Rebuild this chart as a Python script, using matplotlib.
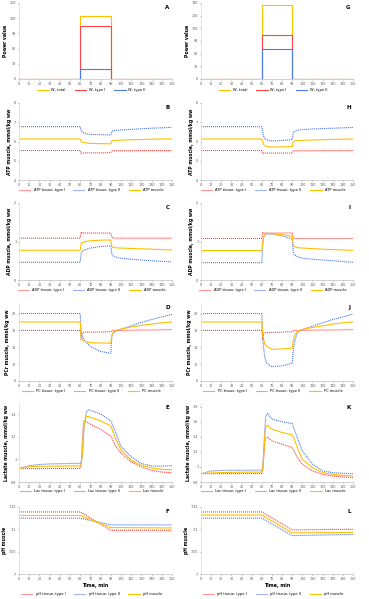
import matplotlib
matplotlib.use("Agg")
import matplotlib.pyplot as plt
from matplotlib.ticker import FuncFormatter

# ---------------- data ----------------
t_pow = [0, 60, 60, 90, 90, 150]
pow_total_A = [0, 0, 125, 125, 0, 0]
pow_t1_A = [0, 0, 105, 105, 0, 0]
pow_t2_A = [0, 0, 20, 20, 0, 0]
pow_total_G = [0, 0, 175, 175, 0, 0]
pow_t1_G = [0, 0, 105, 105, 0, 0]
pow_t2_G = [0, 0, 70, 70, 0, 0]

T = [0, 10, 20, 30, 40, 50, 60, 61, 62, 63, 65, 70, 80, 90, 91, 92, 95, 100, 110, 120, 130, 140, 150]

atp_t1_B = [5.53]*7 + [5.38, 5.41, 5.41, 5.41, 5.41, 5.41, 5.42, 5.51, 5.52, 5.52, 5.52, 5.52, 5.53, 5.53, 5.53, 5.53]
atp_t2_B = [6.77]*7 + [6.55, 6.50, 6.46, 6.41, 6.37, 6.35, 6.34, 6.52, 6.56, 6.58, 6.60, 6.63, 6.66, 6.69, 6.71, 6.74]
atp_m_B = [6.13]*7 + [6.00, 5.97, 5.95, 5.93, 5.90, 5.89, 5.88, 6.03, 6.05, 6.06, 6.07, 6.09, 6.10, 6.12, 6.13, 6.14]

atp_t1_H = [5.53]*7 + [5.38, 5.39, 5.40, 5.40, 5.40, 5.40, 5.40, 5.51, 5.52, 5.52, 5.52, 5.52, 5.53, 5.53, 5.53, 5.53]
atp_t2_H = [6.77]*7 + [6.45, 6.24, 6.15, 6.07, 6.03, 6.05, 6.10, 6.45, 6.52, 6.59, 6.62, 6.65, 6.67, 6.69, 6.71, 6.73]
atp_m_H = [6.13]*7 + [5.95, 5.82, 5.78, 5.74, 5.71, 5.72, 5.74, 5.98, 6.03, 6.05, 6.06, 6.08, 6.09, 6.11, 6.12, 6.13]

adp_t1_C = [1.087]*7 + [1.25, 1.22, 1.22, 1.22, 1.22, 1.22, 1.22, 1.12, 1.09, 1.087, 1.087, 1.087, 1.087, 1.087, 1.087, 1.087]
adp_t2_C = [0.46]*7 + [0.70, 0.74, 0.77, 0.79, 0.83, 0.87, 0.89, 0.68, 0.63, 0.59, 0.565, 0.54, 0.52, 0.50, 0.485, 0.47]
adp_m_C = [0.774]*7 + [0.95, 0.97, 0.98, 1.00, 1.02, 1.035, 1.04, 0.87, 0.85, 0.835, 0.83, 0.82, 0.81, 0.80, 0.79, 0.78]

adp_t1_I = [1.078]*7 + [1.24, 1.22, 1.22, 1.22, 1.22, 1.22, 1.22, 1.10, 1.08, 1.078, 1.078, 1.078, 1.078, 1.078, 1.078, 1.078]
adp_t2_I = [0.45]*7 + [0.95, 1.13, 1.17, 1.20, 1.19, 1.15, 1.06, 0.75, 0.65, 0.61, 0.565, 0.54, 0.52, 0.50, 0.48, 0.46]
adp_m_I = [0.765]*7 + [1.00, 1.13, 1.18, 1.21, 1.20, 1.18, 1.13, 0.93, 0.87, 0.84, 0.83, 0.815, 0.80, 0.79, 0.78, 0.77]

pc_t1_D = [18.0]*7 + [15.8, 17.4, 17.5, 17.6, 17.6, 17.6, 17.7, 17.9, 18.0, 18.0, 18.0, 18.05, 18.1, 18.1, 18.15, 18.2]
pc_t2_D = [22.0]*7 + [17.4, 16.8, 16.2, 15.4, 14.2, 13.0, 12.6, 16.6, 17.2, 17.8, 18.3, 19.1, 19.9, 20.6, 21.2, 21.8]
pc_m_D = [20.0]*7 + [16.2, 15.8, 15.6, 15.4, 15.1, 15.0, 15.0, 16.8, 17.4, 18.0, 18.3, 18.8, 19.2, 19.5, 19.8, 20.0]

pc_t1_J = [18.0]*7 + [15.8, 17.4, 17.5, 17.5, 17.5, 17.6, 17.7, 17.9, 18.0, 18.0, 18.0, 18.05, 18.1, 18.1, 18.15, 18.2]
pc_t2_J = [22.0]*7 + [16.0, 13.4, 11.5, 10.2, 9.4, 9.6, 10.2, 13.0, 15.0, 17.4, 18.2, 19.0, 19.8, 20.6, 21.2, 21.9]
pc_m_J = [20.0]*7 + [16.6, 15.6, 14.8, 14.2, 13.5, 13.6, 13.8, 15.5, 16.6, 17.8, 18.2, 18.7, 19.1, 19.5, 19.8, 20.0]

TL = [0, 10, 20, 30, 40, 50, 60, 61, 62, 63, 64, 66, 68, 70, 80, 90, 92, 95, 100, 110, 120, 130, 140, 150]
lac_t1_E = [0.918, 0.918, 0.918, 0.919, 0.919, 0.919, 0.92, 0.96, 1.15, 1.30, 1.342, 1.335, 1.325, 1.312, 1.267, 1.206, 1.17, 1.115, 1.055, 0.979, 0.933, 0.903, 0.888, 0.882]
lac_t2_E = [0.92, 0.945, 0.955, 0.96, 0.962, 0.964, 0.965, 0.975, 1.02, 1.15, 1.30, 1.42, 1.44, 1.435, 1.403, 1.342, 1.30, 1.236, 1.115, 1.024, 0.964, 0.942, 0.940, 0.945]
lac_m_E = [0.92, 0.935, 0.94, 0.94, 0.941, 0.942, 0.943, 0.96, 1.05, 1.20, 1.33, 1.38, 1.38, 1.373, 1.342, 1.297, 1.25, 1.176, 1.085, 0.994, 0.948, 0.924, 0.912, 0.909]

lac_t1_K = [0.911, 0.911, 0.911, 0.912, 0.912, 0.912, 0.913, 0.95, 1.15, 1.33, 1.39, 1.395, 1.37, 1.347, 1.302, 1.258, 1.21, 1.124, 1.036, 0.947, 0.902, 0.88, 0.867, 0.858]
lac_t2_K = [0.91, 0.947, 0.952, 0.956, 0.956, 0.957, 0.957, 1.0, 1.25, 1.50, 1.68, 1.71, 1.67, 1.636, 1.60, 1.578, 1.50, 1.391, 1.213, 1.036, 0.947, 0.924, 0.916, 0.911]
lac_m_K = [0.911, 0.92, 0.925, 0.929, 0.93, 0.931, 0.932, 0.97, 1.20, 1.42, 1.54, 1.555, 1.52, 1.502, 1.458, 1.427, 1.37, 1.258, 1.102, 0.991, 0.924, 0.902, 0.889, 0.88]

T_ph = [0, 60, 90, 150]
ph_t1_F = [7.139, 7.139, 7.098, 7.098]
ph_t2_F = [7.125, 7.125, 7.110, 7.110]
ph_m_F = [7.131, 7.131, 7.104, 7.103]
ph_t1_L = [7.139, 7.139, 7.099, 7.100]
ph_t2_L = [7.125, 7.125, 7.086, 7.0885]
ph_m_L = [7.132, 7.132, 7.092, 7.093]

x_ticks = list(range(0, 151, 10))

# ---------------- style ----------------
RED = '#FF4646'
BLUE = '#4F7BEA'
YEL = '#FFC000'
DOT = (0, (1, 0.8))

W, H = 369, 599
fig = plt.figure(figsize=(W/100, H/100), dpi=100)
plt.rcParams['font.family'] = ['DejaVu Sans']

rows_px = [(3, 79), (103, 180), (203, 280), (303, 381), (403, 482), (507, 574)]
leg_px = [90, 190, 290, 391, 491, 594]
cols_px = [(19, 172), (201, 353)]

def comma_fmt(v, pos):
    s = '{:g}'.format(round(v, 6))
    return s.replace('.', ',')

def make_ax(r, c):
    (x0, x1), (y0, y1) = cols_px[c], rows_px[r]
    ax = fig.add_axes([x0/W, 1 - y1/H, (x1-x0)/W, (y1-y0)/H])
    for s in ['top', 'right']:
        ax.spines[s].set_visible(False)
    ax.spines['left'].set_color('#d9d9d9')
    ax.spines['bottom'].set_color('#bfbfbf')
    ax.spines['left'].set_linewidth(0.5)
    ax.spines['bottom'].set_linewidth(0.5)
    ax.tick_params(labelsize=2.4, length=1, width=0.4, pad=1, colors='#595959')
    ax.set_xlim(0, 150)
    ax.set_xticks(x_ticks)
    ax.yaxis.set_major_formatter(FuncFormatter(comma_fmt))
    return ax

def finish(ax, r, c, ylabel, letter, handles):
    ax.set_ylabel(ylabel, fontsize=3.3, fontweight='bold', labelpad=1.5)
    ax.text(0.985, 0.97, letter, transform=ax.transAxes, ha='right', va='top',
            fontsize=4, fontweight='bold')
    (x0, x1) = cols_px[c]
    fig.legend(handles=handles, loc='center', ncol=3, frameon=False, fontsize=2.6,
               handlelength=3.2, columnspacing=2.4, handletextpad=0.8,
               bbox_to_anchor=(((x0+x1)/2 - 4)/W, 1 - leg_px[r]/H),
               bbox_transform=fig.transFigure)

lw = 0.8

# Row 1: power
for c, (tot, t1, t2, ymax, letter) in enumerate([
        (pow_total_A, pow_t1_A, pow_t2_A, 150, 'A'),
        (pow_total_G, pow_t1_G, pow_t2_G, 180, 'G')]):
    ax = make_ax(0, c)
    h1, = ax.plot(t_pow, tot, color=YEL, lw=lw, label='W, total')
    h2, = ax.plot(t_pow, t1, color=RED, lw=lw, label='W, type I')
    h3, = ax.plot(t_pow, t2, color=BLUE, lw=lw, label='W, type II')
    ax.set_ylim(0, ymax)
    ax.set_yticks(list(range(0, ymax+1, 30)))
    finish(ax, 0, c, 'Power value', letter, [h1, h2, h3])

panels = [
    (1, T, [(atp_t1_B, atp_t2_B, atp_m_B, 'B'), (atp_t1_H, atp_t2_H, atp_m_H, 'H')],
     'ATP', 'ATP muscle, mmol/kg ww', (4, 8), [4, 5, 6, 7, 8]),
    (2, T, [(adp_t1_C, adp_t2_C, adp_m_C, 'C'), (adp_t1_I, adp_t2_I, adp_m_I, 'I')],
     'ADP', 'ADP muscle, mmol/kg ww', (0, 2), [0, 1, 2]),
    (3, T, [(pc_t1_D, pc_t2_D, pc_m_D, 'D'), (pc_t1_J, pc_t2_J, pc_m_J, 'J')],
     'PC', 'PCr muscle, mmol/kg ww', (6, 24.5), [6, 10, 14, 18, 22]),
    (4, TL, [(lac_t1_E, lac_t2_E, lac_m_E, 'E'), (lac_t1_K, lac_t2_K, lac_m_K, 'K')],
     'Lac', 'Lactate muscle, mmol/kg ww', None, None),
    (5, T_ph, [(ph_t1_F, ph_t2_F, ph_m_F, 'F'), (ph_t1_L, ph_t2_L, ph_m_L, 'L')],
     'pH', 'pH muscle', (7.0, 7.15), [7.0, 7.05, 7.1, 7.15]),
]

lac_lims = [((0.8, 1.5), [0.8, 1.0, 1.2, 1.4]), ((0.8, 1.85), [0.8, 1.0, 1.2, 1.4, 1.6, 1.8])]

for r, tt, series, pre, ylabel, ylim, yt in panels:
    for c, (s1, s2, sm, letter) in enumerate(series):
        ax = make_ax(r, c)
        h1, = ax.plot(tt, s1, color=RED, lw=lw, ls=DOT, label=f'{pre} tissue, type I')
        h2, = ax.plot(tt, s2, color=BLUE, lw=lw, ls=DOT, label=f'{pre} tissue, type II')
        h3, = ax.plot(tt, sm, color=YEL, lw=lw, label=f'{pre} muscle')
        if ylim is None:
            lim, ticks = lac_lims[c]
        else:
            lim, ticks = ylim, yt
        ax.set_ylim(*lim)
        ax.set_yticks(ticks)
        finish(ax, r, c, ylabel, letter, [h1, h2, h3])
        if r == 5:
            ax.set_xlabel('Time, min', fontsize=3.4, fontweight='bold', labelpad=1.5)

fig.savefig('out.png', dpi=100)
